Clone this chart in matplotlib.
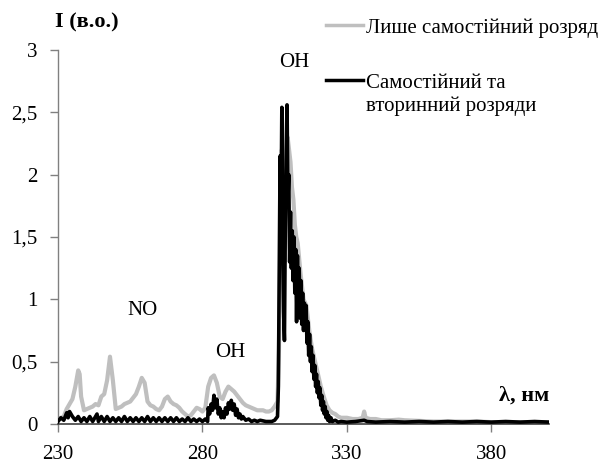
import matplotlib
matplotlib.use("Agg")
import matplotlib.pyplot as plt
from matplotlib.lines import Line2D

plt.rcParams['font.family'] = ['Liberation Serif', 'DejaVu Serif']

# ---- data: light gray series (only self-sustained discharge) ----
gray_wl = [230, 231, 232, 233, 234, 235, 236, 237, 237.5, 238, 239, 240, 241, 242, 243, 244,
           245, 246, 247, 248, 249, 250, 251, 252, 253, 254, 255, 256, 257, 258, 259, 260,
           261, 262, 263, 264, 265, 266, 267, 268, 269, 270, 271, 272, 273, 274, 275, 276,
           277, 278, 279, 280, 281, 282, 283, 284, 285, 286, 287, 288, 289, 290, 291, 292,
           293, 294, 295, 296, 297, 298, 299, 300, 301, 302, 303, 304, 305, 306, 306.5, 307,
           307.5, 308, 308.5, 309, 309.5, 310, 310.5, 311, 311.5, 312, 312.5, 313, 314, 315,
           316, 317, 318, 319, 320, 321, 322, 323, 324, 325, 326, 327, 328, 330, 332, 334,
           335.5, 336, 336.5, 338, 340, 342, 345, 348, 350, 355, 360, 365, 370, 375, 380,
           385, 390, 395, 400]
gray_int = [0.04, 0.05, 0.06, 0.12, 0.16, 0.20, 0.30, 0.43, 0.40, 0.22, 0.11, 0.12, 0.13, 0.14, 0.16, 0.15,
            0.22, 0.24, 0.35, 0.54, 0.35, 0.12, 0.13, 0.14, 0.16, 0.17, 0.18, 0.21, 0.24, 0.30, 0.37, 0.33,
            0.18, 0.15, 0.14, 0.12, 0.11, 0.14, 0.20, 0.22, 0.18, 0.16, 0.15, 0.13, 0.10, 0.08, 0.06, 0.07,
            0.10, 0.13, 0.12, 0.10, 0.13, 0.30, 0.37, 0.39, 0.33, 0.22, 0.20, 0.26, 0.30, 0.28, 0.26, 0.23,
            0.20, 0.17, 0.15, 0.14, 0.13, 0.12, 0.11, 0.11, 0.11, 0.10, 0.10, 0.11, 0.14, 0.18, 0.60, 1.50,
            2.20, 1.50, 1.30, 2.00, 2.30, 2.20, 2.10, 1.90, 1.80, 1.60, 1.50, 1.45, 1.20, 1.00,
            0.95, 0.75, 0.60, 0.50, 0.40, 0.30, 0.22, 0.15, 0.11, 0.09, 0.08, 0.06, 0.05, 0.05, 0.04, 0.04,
            0.05, 0.10, 0.05, 0.04, 0.04, 0.03, 0.03, 0.035, 0.03, 0.025, 0.02, 0.02, 0.02, 0.02, 0.015,
            0.015, 0.015, 0.015, 0.015]

# ---- data: black series (self-sustained and secondary discharges) ----
black_wl = [230, 231, 232, 233, 233.5, 234, 235, 236, 237, 238, 239, 240, 241, 242, 243, 243.5,
            244, 245, 246, 247, 248, 249, 250, 251, 252, 253, 254, 255, 256, 257, 258, 259,
            260, 261, 262, 263, 264, 265, 266, 267, 268, 269, 270, 271, 272, 273, 274, 275,
            276, 277, 278, 279, 280, 281, 281.8, 282, 282.5, 283, 283.5, 284, 284.5, 285, 285.5,
            286, 286.5, 287, 287.5, 288, 288.5, 289, 289.5, 290, 290.5, 291, 291.5, 292, 292.5,
            293, 293.5, 294, 295, 296, 297, 298, 299, 300, 302, 304, 305, 306, 306.3, 306.6,
            306.9, 307.2, 307.5, 307.8, 308.1, 308.4, 308.7, 309.0, 309.3, 309.6, 309.9, 310.2,
            310.5, 310.8, 311.1, 311.4, 311.7, 312.0, 312.3, 312.6, 312.9, 313.2, 313.5, 313.8,
            314.1, 314.4, 314.7, 315.0, 315.3, 315.6, 315.9, 316.2, 316.5, 316.8, 317.1, 317.4,
            317.7, 318.0, 318.3, 318.6, 318.9, 319.2, 319.5, 319.8, 320.1, 320.4, 320.7, 321.0,
            321.3, 321.6, 321.9, 322.2, 322.5, 322.8, 323.1, 323.4, 323.7, 324.0, 324.5, 325,
            326, 327, 328, 330, 333, 336, 337, 340, 345, 350, 355, 360, 365, 370, 375, 380,
            385, 390, 395, 400]
black_int = [0.02, 0.05, 0.03, 0.09, 0.05, 0.10, 0.06, 0.03, 0.06, 0.02, 0.05, 0.02, 0.06, 0.02, 0.06, 0.08,
             0.02, 0.06, 0.02, 0.06, 0.02, 0.05, 0.02, 0.05, 0.02, 0.06, 0.02, 0.05, 0.02, 0.05, 0.02, 0.05,
             0.02, 0.06, 0.02, 0.05, 0.02, 0.05, 0.02, 0.05, 0.02, 0.05, 0.02, 0.05, 0.02, 0.04, 0.02, 0.05,
             0.02, 0.04, 0.02, 0.04, 0.02, 0.04, 0.02, 0.13, 0.08, 0.16, 0.11, 0.23, 0.13, 0.20, 0.08,
             0.13, 0.05, 0.10, 0.05, 0.13, 0.08, 0.17, 0.12, 0.19, 0.11, 0.16, 0.07, 0.12, 0.05,
             0.08, 0.04, 0.06, 0.03, 0.04, 0.02, 0.03, 0.02, 0.03, 0.02, 0.02, 0.03, 0.06, 0.30, 1.20,
             2.15, 1.60, 2.54, 1.40, 0.90, 0.67, 1.60, 2.20, 2.56, 1.80, 2.00, 1.30,
             1.70, 1.25, 1.55, 1.15, 1.50, 1.05, 1.40, 0.82, 1.35, 0.95, 1.25, 0.85,
             1.15, 0.80, 1.05, 0.75, 0.97, 0.78, 0.95, 0.65, 0.82, 0.55, 0.72, 0.50,
             0.62, 0.42, 0.55, 0.36, 0.47, 0.30, 0.40, 0.25, 0.34, 0.21, 0.29, 0.15,
             0.23, 0.11, 0.18, 0.08, 0.14, 0.05, 0.10, 0.03, 0.07, 0.02, 0.05, 0.02,
             0.03, 0.015, 0.02, 0.015, 0.02, 0.03, 0.02, 0.015, 0.02, 0.015, 0.02, 0.015, 0.02, 0.015, 0.02, 0.015,
             0.02, 0.015, 0.02, 0.015]

legend_labels = ["Лише самостійний розряд", "Самостійний та\nвторинний розряди"]
x_ticks = [230, 280, 330, 380]
y_ticks = [0, 0.5, 1, 1.5, 2, 2.5, 3]
y_tick_labels = ["0", "0,5", "1", "1,5", "2", "2,5", "3"]

W, H = 603, 463
fig = plt.figure(figsize=(W / 100, H / 100), dpi=100)
ax = fig.add_axes([58 / W, 39 / H, (549 - 58) / W, (424 - 50) / H])

ax.plot(gray_wl, gray_int, color='#BFBFBF', lw=3.0, zorder=2)
ax.plot(black_wl, black_int, color='black', lw=2.6, zorder=3)

ax.set_xlim(230, 400)
ax.set_ylim(0, 3)
ax.set_xticks(x_ticks)
ax.set_yticks(y_ticks)
ax.set_yticklabels(y_tick_labels)
for s in ['top', 'right']:
    ax.spines[s].set_visible(False)
ax.spines['left'].set_color('#808080')
ax.spines['bottom'].set_color('#404040')
ax.spines['left'].set_linewidth(1.0)
ax.spines['bottom'].set_linewidth(1.2)
ax.tick_params(axis='both', direction='out', length=6, width=1.0, color='#808080',
               labelsize=15, labelcolor='black')
ax.tick_params(axis='x', pad=9)
ax.tick_params(axis='y', pad=9)

# annotations
ax.text(311.7, 2.90, "OH", fontsize=15, ha='center', va='center')
ax.text(259.1, 0.91, "NO", fontsize=15, ha='center', va='center')
ax.text(289.5, 0.57, "OH", fontsize=15, ha='center', va='center')

# axis labels
fig.text(55 / W, 1 - 22 / H, "I (в.о.)", fontsize=16, fontweight='bold', ha='left', va='center')
fig.text(549 / W, 1 - 396 / H, "λ, нм", fontsize=16, fontweight='bold', ha='right', va='center')

# legend (manual)
fig.add_artist(Line2D([326 / W, 363 / W], [1 - 25 / H, 1 - 25 / H], color='#BFBFBF', lw=2.5))
fig.add_artist(Line2D([326 / W, 363 / W], [1 - 80 / H, 1 - 80 / H], color='black', lw=2.5))
fig.text(366 / W, 1 - 28 / H, legend_labels[0], fontsize=15, ha='left', va='center')
fig.text(366 / W, 1 - 95 / H, legend_labels[1], fontsize=15, ha='left', va='center', linespacing=1.25)

fig.savefig("out.png", dpi=100)
